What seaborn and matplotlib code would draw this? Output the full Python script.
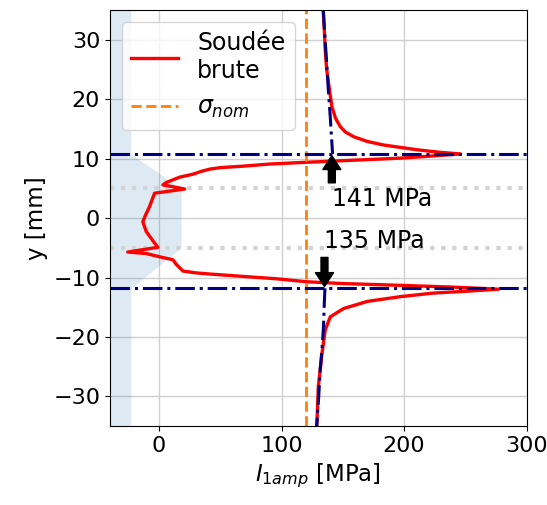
import matplotlib
matplotlib.use("Agg")

import matplotlib.pyplot as plt
import seaborn as sns

# ─────────────── data ───────────────
# measured profile "Soudée brute" (x = I1amp [MPa], y = position [mm])
brute_x = [134.0, 135.0, 135.6, 136.8, 138.3, 141.0, 144.0, 147.9, 152.0, 158.8,
           170.0, 183.4, 197.0, 210.7, 228.0, 246.0,
           222.0, 197.0, 170.0, 142.4, 115.0, 90.0, 68.7, 50.0, 41.4, 35.0,
           27.8, 16.9, 6.0, 3.2, 21.0, -3.6, -7.7, -11.0, -13.2, -10.4,
           -5.0, -0.9, -25.5, -10.4, 0.5, 11.4, 14.2, 19.6, 30.0, 41.4,
           68.7, 96.0, 120.6, 150.0, 197.0, 240.0, 277.0,
           250.0, 224.0, 197.0, 170.0, 150.6, 139.7, 135.6, 133.0, 131.5,
           130.0, 128.8, 128.5]
brute_y = [35.0, 31.0, 28.3, 25.0, 22.7, 18.8, 16.8, 15.4, 14.5, 13.7,
           12.9, 12.3, 11.9, 11.5, 11.1, 10.8,
           10.45, 10.1, 9.85, 9.6, 9.35, 9.1, 8.75, 8.5, 8.25, 7.9,
           7.4, 6.9, 6.0, 5.6, 4.9, 4.2, 1.95, 0.5, -0.6, -2.25,
           -3.8, -4.9, -5.7, -5.95, -6.5, -7.0, -7.8, -8.9, -9.2, -9.4,
           -9.8, -10.2, -10.7, -11.0, -11.3, -11.6, -11.95,
           -12.3, -12.6, -13.2, -14.0, -15.2, -16.6, -18.8, -22.7, -25.5,
           -28.3, -34.5, -35.0]

# extrapolated far-field curves (dash-dot)
fit_top_x = [134.0, 135.5, 137.0, 138.3, 139.7, 140.6, 141.3, 141.6]
fit_top_y = [35.0, 30.0, 25.5, 21.0, 17.1, 14.0, 11.8, 10.8]
fit_bot_x = [135.4, 134.9, 134.2, 133.0, 131.5, 130.3, 128.8, 128.6]
fit_bot_y = [-11.8, -14.0, -18.2, -22.0, -25.5, -30.0, -34.5, -35.0]

# weld zone outline (shaded)
weld_y = [-35.0, -11.8, -5.0, 5.0, 10.8, 35.0]
weld_x = [-23.0, -23.0, 18.0, 18.0, -23.0, -23.0]

sigma_nom = 120.0
toe_levels = [10.8, -11.8]
zone_levels = [5.0, -5.0]
hot_spot = [141, 135]

# ─────────────── plot ───────────────
plt.rcParams["font.size"] = 16.5
plt.rcParams["font.family"] = ["DejaVu Sans"]

fig, ax = plt.subplots(figsize=(5.47, 5.05), dpi=100)
fig.subplots_adjust(left=0.201, right=0.963, top=0.980, bottom=0.156)

ax.fill_betweenx(weld_y, -60, weld_x, color="tab:blue", alpha=0.15, lw=0)

for lvl in zone_levels:
    ax.axhline(lvl, color="lightgrey", ls=":", lw=3)

sns.lineplot(x=brute_x, y=brute_y, sort=False, estimator=None, ax=ax,
             color="red", lw=2.4, label="Soudée\nbrute")
ax.axvline(sigma_nom, color="tab:orange", ls="--", lw=2, label=r"$\sigma_{nom}$")

for lvl in toe_levels:
    ax.axhline(lvl, color="navy", ls="-.", lw=2.2)
sns.lineplot(x=fit_top_x, y=fit_top_y, sort=False, estimator=None, ax=ax,
             color="navy", ls="-.", lw=2.2)
sns.lineplot(x=fit_bot_x, y=fit_bot_y, sort=False, estimator=None, ax=ax,
             color="navy", ls="-.", lw=2.2)

arrow_kw = dict(facecolor="black", shrink=0.05, width=5, headwidth=13, headlength=10)
ax.annotate(f"{hot_spot[0]} MPa", xy=(hot_spot[0], toe_levels[0]),
            xytext=(hot_spot[0], 2.0), fontsize=17, arrowprops=arrow_kw)
ax.annotate(f"{hot_spot[1]} MPa", xy=(hot_spot[1], toe_levels[1]),
            xytext=(hot_spot[1], -5.0), fontsize=17, arrowprops=arrow_kw)

ax.set_xlim(-40, 300)
ax.set_ylim(-35, 35)
ax.set_xticks([0, 100, 200, 300])
ax.set_yticks([-30, -20, -10, 0, 10, 20, 30])
ax.tick_params(labelsize=16)
ax.grid(True, color="#d0d0d0", lw=1)
ax.set_axisbelow(True)
ax.set_xlabel(r"$I_{1amp}$ [MPa]")
ax.set_ylabel("y [mm]")
ax.legend(loc="upper left", fontsize=17)

fig.savefig("out.png", dpi=100)
